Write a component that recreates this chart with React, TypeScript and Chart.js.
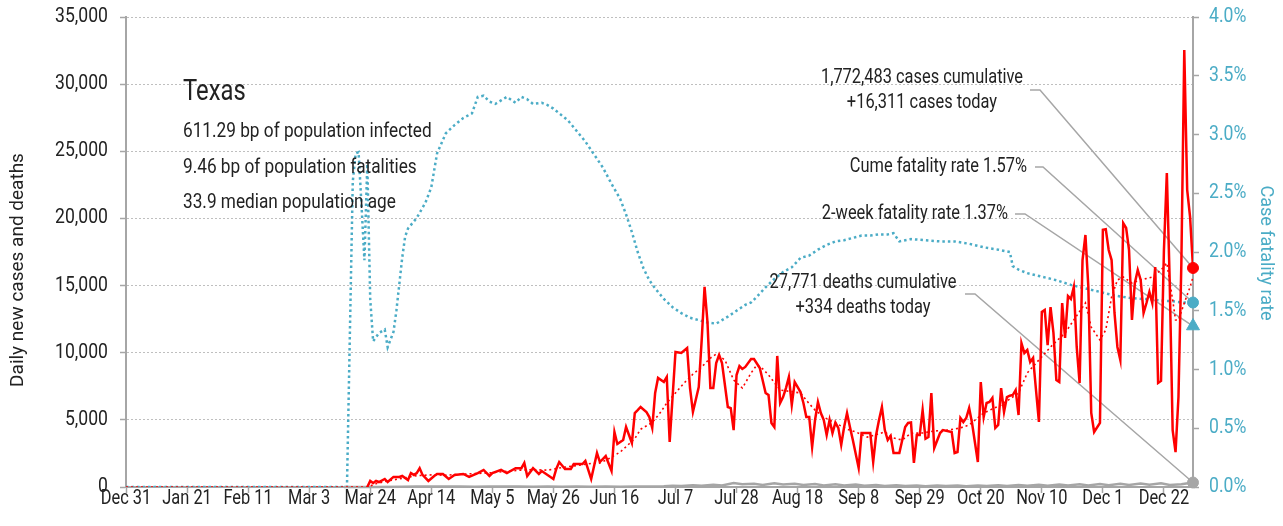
import React, { useEffect, useRef } from "react";
import { Chart, registerables } from "chart.js";
Chart.register(...registerables);

const FONT = "Roboto, 'Liberation Sans', sans-serif";
const TEXT = "#222222";
const RED = "#FF0000";
const CYAN = "#4BACC6";
const GRAY = "#A6A6A6";

// x axis: day index counted from Dec 31 (2019)
const tickDays = [0, 21, 42, 63, 84, 105, 126, 147, 168, 189, 210, 231, 252, 273, 294, 315, 336, 357];
const tickLabels = ["Dec 31", "Jan 21", "Feb 11", "Mar 3", "Mar 24", "Apr 14", "May 5", "May 26", "Jun 16", "Jul 7", "Jul 28", "Aug 18", "Sep 8", "Sep 29", "Oct 20", "Nov 10", "Dec 1", "Dec 22"];
const lastDay = 367;

// daily new cases (vertices of the red line)
const caseDays = [83, 84, 85, 86, 87, 89, 90, 92, 94, 95, 97, 98, 99, 100, 101, 102, 104, 106, 107, 109, 111, 113, 116, 118, 121, 123, 125, 126, 129, 131, 134, 136, 137, 138, 140, 142, 143, 145, 147, 148, 149, 151, 153, 154, 157, 158, 160, 162, 163, 165, 167, 168, 169, 171, 172, 174, 175, 176, 177, 179, 180, 181, 182, 183, 185, 186, 187, 189, 191, 193, 194, 195, 197, 198, 199, 200, 201, 202, 203, 204, 205, 207, 208, 209, 210, 211, 212, 213, 215, 216, 218, 220, 221, 222, 223, 224, 225, 226, 227, 228, 229, 230, 232, 233, 234, 235, 236, 237, 238, 239, 240, 241, 242, 243, 244, 245, 246, 247, 248, 249, 250, 252, 253, 256, 257, 258, 259, 260, 261, 262, 263, 264, 266, 268, 269, 270, 271, 272, 273, 274, 275, 276, 277, 278, 280, 281, 284, 285, 286, 287, 288, 289, 290, 291, 293, 294, 295, 296, 297, 298, 299, 300, 301, 302, 303, 304, 305, 306, 307, 308, 309, 310, 311, 312, 314, 315, 316, 317, 318, 319, 320, 321, 322, 323, 324, 325, 326, 327, 328, 329, 330, 331, 332, 333, 335, 336, 337, 338, 339, 340, 341, 342, 343, 344, 345, 346, 347, 348, 349, 350, 351, 352, 353, 354, 355, 356, 357, 358, 359, 360, 361, 362, 363, 364, 365, 366, 367];
const caseValues = [0, 450, 300, 450, 370, 600, 370, 750, 750, 820, 520, 1040, 900, 1040, 1400, 900, 450, 820, 970, 970, 600, 900, 970, 750, 1040, 1270, 820, 1040, 1270, 1040, 1400, 1400, 1790, 820, 1400, 970, 1190, 900, 600, 1340, 1860, 1340, 1340, 1710, 1710, 1940, 600, 2530, 1860, 2300, 1190, 4100, 3200, 3500, 4470, 3280, 5510, 5730, 5960, 5590, 5210, 4400, 7000, 8120, 7820, 8190, 3350, 10050, 9980, 10350, 7370, 5590, 7450, 10900, 14900, 12290, 7370, 7370, 9230, 9830, 9230, 5960, 5880, 4240, 8340, 9010, 8790, 8940, 9530, 9530, 8860, 7000, 6850, 4770, 4470, 9760, 6260, 6700, 7370, 8190, 6110, 7820, 7070, 6260, 5210, 5210, 2980, 4990, 6330, 5510, 4990, 3870, 4990, 4020, 4800, 4400, 3130, 4470, 5510, 4470, 3500, 1420, 4020, 4020, 1860, 3870, 4990, 5960, 4240, 3500, 3800, 2530, 2530, 4470, 4770, 4800, 1790, 3870, 3870, 5730, 3600, 3720, 7000, 2900, 4020, 4240, 4100, 2530, 2600, 5140, 4840, 5140, 5880, 4770, 1860, 7820, 5210, 6260, 6330, 6630, 4400, 4620, 7370, 5590, 6700, 6800, 6850, 7220, 5360, 10720, 9980, 10200, 9310, 9610, 4840, 13030, 13180, 10570, 13400, 11470, 7970, 7820, 13700, 11100, 14220, 14000, 14900, 10430, 7740, 16900, 18770, 14900, 5510, 4100, 4770, 19150, 19200, 17650, 16900, 12960, 10430, 9460, 19660, 19300, 17650, 12440, 15190, 16160, 15420, 12960, 13700, 14520, 13700, 16380, 7750, 7900, 17650, 23380, 15190, 4240, 2600, 6700, 16680, 32540, 22120, 20100, 16311];

// 7-day average of cases (red dotted)
const avgDays = [0, 83, 86, 90, 95, 100, 105, 110, 115, 120, 125, 130, 135, 140, 145, 150, 155, 160, 163, 166, 170, 173, 175, 177, 181, 184, 186, 189, 192, 195, 198, 201, 203, 206, 209, 212, 215, 217, 219, 221, 225, 229, 232, 235, 237, 240, 244, 248, 251, 255, 258, 261, 264, 267, 270, 274, 278, 283, 287, 290, 295, 301, 307, 310, 314, 318, 323, 326, 330, 332, 335, 337, 339, 341, 343, 346, 349, 353, 356, 358, 360, 361, 362, 364, 366, 367];
const avgValues = [0, 0, 250, 450, 650, 850, 900, 880, 950, 1000, 1050, 1150, 1250, 1300, 1250, 1450, 1600, 1750, 1790, 2100, 2600, 3200, 3600, 4300, 4800, 5600, 6260, 7000, 7750, 8400, 8940, 9600, 9900, 9460, 7970, 7370, 8490, 9090, 8800, 8340, 7220, 7100, 7000, 6200, 5730, 5200, 4770, 4300, 4100, 3720, 3900, 4100, 3650, 3500, 4000, 4020, 4170, 4240, 4400, 4620, 5510, 6110, 7000, 8490, 9460, 10430, 11470, 12440, 13700, 11900, 10950, 11700, 14150, 15420, 15640, 15190, 15420, 15640, 16160, 16680, 13930, 12440, 12440, 13700, 14900, 15640];

// daily deaths (gray)
const deathDays = [75, 85, 95, 100, 105, 110, 115, 120, 125, 130, 135, 140, 145, 150, 155, 160, 165, 170, 175, 180, 185, 188, 191, 195, 198, 202, 205, 209, 212, 216, 219, 223, 226, 230, 233, 237, 240, 244, 247, 251, 254, 258, 261, 265, 268, 272, 275, 279, 282, 286, 289, 293, 296, 300, 303, 307, 310, 314, 317, 321, 324, 328, 331, 335, 338, 342, 345, 349, 352, 356, 359, 363, 367];
const deathValues = [0, 5, 20, 30, 40, 30, 45, 25, 40, 30, 35, 20, 35, 25, 30, 20, 30, 25, 40, 30, 60, 100, 80, 130, 90, 170, 110, 300, 200, 250, 150, 280, 180, 250, 150, 230, 120, 200, 110, 180, 90, 150, 80, 130, 70, 110, 60, 120, 70, 110, 60, 120, 70, 130, 80, 150, 90, 170, 100, 190, 110, 200, 120, 230, 140, 250, 150, 260, 160, 270, 150, 200, 334];

// case fatality rate, % (cyan dotted, right axis)
const cfrDays = [0, 76, 78, 79, 80, 81, 82, 83, 84, 85, 87, 89, 90, 92, 93, 95, 96, 97, 100, 103, 105, 107, 110, 113, 116, 119, 121, 123, 125, 127, 129, 131, 134, 136, 138, 140, 143, 145, 147, 149, 152, 155, 158, 161, 164, 167, 170, 172, 174, 176, 178, 180, 182, 185, 188, 191, 194, 197, 200, 203, 205, 207, 210, 213, 215, 217, 220, 223, 226, 229, 232, 235, 238, 241, 244, 247, 250, 253, 256, 259, 262, 264, 266, 270, 275, 280, 285, 290, 295, 300, 304, 305, 307, 310, 315, 320, 325, 330, 335, 340, 345, 350, 355, 360, 364, 367];
const cfrValues = [0, 0, 2.6, 2.84, 2.85, 2.4, 1.93, 2.75, 1.6, 1.24, 1.31, 1.34, 1.19, 1.32, 1.5, 1.95, 2.13, 2.2, 2.29, 2.42, 2.55, 2.84, 3.01, 3.08, 3.14, 3.18, 3.32, 3.33, 3.28, 3.26, 3.29, 3.32, 3.27, 3.32, 3.3, 3.26, 3.27, 3.25, 3.22, 3.18, 3.12, 3.03, 2.94, 2.83, 2.72, 2.58, 2.45, 2.32, 2.17, 2.0, 1.86, 1.76, 1.69, 1.6, 1.53, 1.48, 1.44, 1.42, 1.4, 1.39, 1.42, 1.45, 1.5, 1.55, 1.57, 1.62, 1.7, 1.77, 1.83, 1.87, 1.95, 1.97, 2.02, 2.06, 2.09, 2.1, 2.12, 2.14, 2.14, 2.15, 2.15, 2.16, 2.09, 2.11, 2.1, 2.09, 2.09, 2.07, 2.04, 2.02, 2.0, 1.88, 1.85, 1.82, 1.79, 1.76, 1.72, 1.69, 1.66, 1.63, 1.61, 1.6, 1.59, 1.58, 1.57, 1.57];

const twoWeekRate = 1.37;

const stateName = "Texas";
const statLines = ["611.29 bp of population infected", "9.46 bp of population fatalities", "33.9 median population age"];
const casesLabel = ["1,772,483 cases cumulative", "+16,311 cases today"];
const cfrLabel = "Cume fatality rate 1.57%";
const twoWeekLabel = "2-week fatality rate 1.37%";
const deathsLabel = ["27,771 deaths cumulative", "+334 deaths today"];
const leftTitle = "Daily new cases and deaths";
const rightTitle = "Case fatality rate";

const pts = (days: number[], vals: number[]) => days.map((d, i) => ({ x: d, y: vals[i] }));
const last = (a: number[]) => a[a.length - 1];

function txt(ctx: any, s: string, x: number, y: number, size: number, color: string, align: string, sx: number, rot = 0) {
  ctx.save();
  ctx.translate(x, y);
  if (rot) ctx.rotate(rot);
  ctx.scale(sx, 1);
  ctx.font = `${size}px ${FONT}`;
  ctx.fillStyle = color;
  ctx.textAlign = align;
  ctx.textBaseline = "middle";
  ctx.fillText(s, 0, 0);
  ctx.restore();
}

const overlay = {
  id: "overlay",
  beforeDatasetsDraw(chart: any) {
    const ctx = chart.ctx;
    const xs = chart.scales.x;
    const yl = chart.scales.y;
    const yr = chart.scales.y1;
    const px = xs.getPixelForValue(lastDay);
    const leaders = [
      { a: [1030, 90], b: [1040, 90], t: [px, yl.getPixelForValue(last(caseValues))] },
      { a: [1035, 167], b: [1043, 167], t: [px, yr.getPixelForValue(last(cfrValues))] },
      { a: [1015, 214], b: [1025, 214], t: [px, yr.getPixelForValue(twoWeekRate)] },
      { a: [965, 294], b: [975, 294], t: [px, yl.getPixelForValue(last(deathValues))] },
    ];
    ctx.save();
    ctx.strokeStyle = GRAY;
    ctx.lineWidth = 1.5;
    leaders.forEach((l) => {
      ctx.beginPath();
      ctx.moveTo(l.a[0], l.a[1]);
      ctx.lineTo(l.b[0], l.b[1]);
      ctx.lineTo(l.t[0], l.t[1]);
      ctx.stroke();
    });
    ctx.restore();
  },
  afterDraw(chart: any) {
    const ctx = chart.ctx;
    const xs = chart.scales.x;
    const yl = chart.scales.y;
    const yr = chart.scales.y1;

    // tick labels
    tickDays.forEach((d, i) => txt(ctx, tickLabels[i], xs.getPixelForValue(d), 499, 20, TEXT, "center", 0.82));
    yl.ticks.forEach((t: any) => txt(ctx, Number(t.value).toLocaleString("en-US"), 108, yl.getPixelForValue(t.value), 20, TEXT, "right", 0.88));
    yr.ticks.forEach((t: any) => txt(ctx, Number(t.value).toFixed(1) + "%", 1209, yr.getPixelForValue(t.value), 20, CYAN, "left", 0.88));

    // title block
    txt(ctx, stateName, 183, 93, 29, TEXT, "left", 0.82);
    txt(ctx, statLines[0], 183, 132, 21, TEXT, "left", 0.82);
    txt(ctx, statLines[1], 183, 168, 21, TEXT, "left", 0.82);
    txt(ctx, statLines[2], 183, 203, 21, TEXT, "left", 0.82);

    // annotations
    txt(ctx, casesLabel[0], 922, 78, 20, TEXT, "center", 0.82);
    txt(ctx, casesLabel[1], 922, 103, 20, TEXT, "center", 0.82);
    txt(ctx, deathsLabel[0], 863, 283, 20, TEXT, "center", 0.82);
    txt(ctx, deathsLabel[1], 863, 308, 20, TEXT, "center", 0.82);
    txt(ctx, cfrLabel, 1027, 167, 20, TEXT, "right", 0.82);
    txt(ctx, twoWeekLabel, 1008, 214, 20, TEXT, "right", 0.82);

    // axis titles
    txt(ctx, leftTitle, 18, 270, 19, TEXT, "center", 1, -Math.PI / 2);
    txt(ctx, rightTitle, 1265, 253, 18, CYAN, "center", 1, Math.PI / 2);
  },
};

export default function App() {
  const ref = useRef<HTMLCanvasElement>(null);
  useEffect(() => {
    if (!ref.current) return;
    Chart.defaults.font.family = FONT;
    const marker = { showLine: false, clip: false as any };
    const chart = new Chart(ref.current, {
      type: "line",
      data: {
        datasets: [
          { ...marker, label: "casesNow", data: [{ x: lastDay, y: last(caseValues) }], yAxisID: "y", pointRadius: 5.5, pointBackgroundColor: RED, pointBorderColor: RED },
          { ...marker, label: "cfrNow", data: [{ x: lastDay, y: last(cfrValues) }], yAxisID: "y1", pointRadius: 5.5, pointBackgroundColor: CYAN, pointBorderColor: CYAN },
          { ...marker, label: "twoWeek", data: [{ x: lastDay, y: twoWeekRate }], yAxisID: "y1", pointStyle: "triangle", pointRadius: 7.5, pointBackgroundColor: CYAN, pointBorderColor: CYAN },
          { ...marker, label: "deathsNow", data: [{ x: lastDay, y: last(deathValues) }], yAxisID: "y", pointRadius: 5.5, pointBackgroundColor: GRAY, pointBorderColor: GRAY },
          { label: "Daily cases", data: pts(caseDays, caseValues), yAxisID: "y", borderColor: RED, borderWidth: 2.5, pointRadius: 0, tension: 0 },
          { label: "Cases 7-day avg", data: pts(avgDays, avgValues), yAxisID: "y", borderColor: RED, borderWidth: 1.6, borderDash: [2, 3], pointRadius: 0 },
          { label: "Daily deaths", data: pts(deathDays, deathValues), yAxisID: "y", borderColor: GRAY, borderWidth: 2.5, pointRadius: 0, clip: 4 },
          { label: "Case fatality rate", data: pts(cfrDays, cfrValues), yAxisID: "y1", borderColor: CYAN, borderWidth: 2.5, borderDash: [2.5, 3], pointRadius: 0 },
        ],
      },
      options: {
        responsive: false,
        animation: false,
        devicePixelRatio: 1,
        layout: { padding: { top: 17, left: 0, right: 0, bottom: 0 } },
        plugins: { legend: { display: false }, tooltip: { enabled: false } },
        scales: {
          x: {
            type: "linear",
            min: 0,
            max: lastDay,
            afterBuildTicks: (s: any) => { s.ticks = tickDays.map((v) => ({ value: v })); },
            afterFit: (s: any) => { s.height = 39; },
            ticks: { display: false, autoSkip: false },
            grid: { drawOnChartArea: false, drawTicks: true, tickLength: 6, tickColor: GRAY, tickWidth: 1.5 },
            border: { color: GRAY, width: 2 },
          },
          y: {
            position: "left",
            min: 0,
            max: 35000,
            afterFit: (s: any) => { s.width = 126; },
            ticks: { display: false, stepSize: 5000 },
            grid: { color: "#BFBFBF", lineWidth: 1, tickLength: 6, tickColor: GRAY, tickWidth: 1.5, tickBorderDash: [] },
            border: { color: GRAY, width: 2, dash: [2, 2] },
          },
          y1: {
            position: "right",
            min: 0,
            max: 4,
            afterFit: (s: any) => { s.width = 90; },
            ticks: { display: false, stepSize: 0.5 },
            grid: { drawOnChartArea: false, tickLength: 6, tickColor: GRAY, tickWidth: 1.5 },
            border: { color: GRAY, width: 2 },
          },
        },
      },
      plugins: [overlay],
    } as any);
    return () => chart.destroy();
  }, []);
  return (
    <div style={{ position: "fixed", left: 0, top: 0, width: 1283, height: 526, background: "#fff" }}>
      <canvas ref={ref} width={1283} height={526} style={{ width: 1283, height: 526, display: "block" }} />
    </div>
  );
}
